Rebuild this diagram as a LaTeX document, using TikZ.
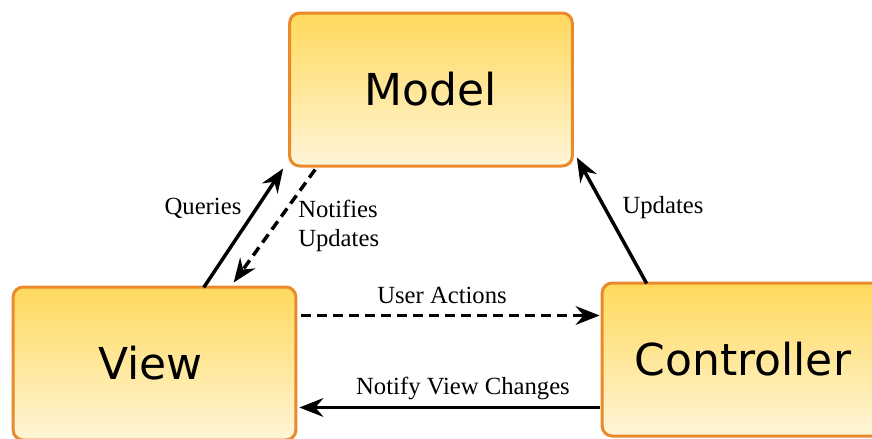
\documentclass[tikz,border=0pt]{standalone}
\usepackage{fontspec}
\setmainfont{Liberation Serif}
\newfontfamily\boxfont{DejaVu Sans}
\usetikzlibrary{arrows.meta,calc}
\definecolor{boxborder}{HTML}{E98A2C}
\definecolor{boxtop}{HTML}{FFD95C}
\definecolor{boxbot}{HTML}{FFF5D8}
\begin{document}
\begin{tikzpicture}[x=0.75pt,y=-0.75pt,
  mvcbox/.style={draw=boxborder,line width=2.25pt,rounded corners=7.5pt,
    top color=boxtop,bottom color=boxbot,minimum width=212pt,minimum height=114.75pt,
    inner sep=0pt,font=\boxfont\fontsize{33}{38}\selectfont},
  conn/.style={line width=2.6pt,-{Stealth[length=18pt,width=14pt,inset=6pt]}},
  dashconn/.style={conn,dash pattern=on 7.5pt off 4.5pt},
  lbl/.style={font=\fontsize{18.5}{21.75}\selectfont,inner sep=0pt}]
\useasboundingbox (0,0) rectangle (872,439);
\node[mvcbox] (Model) at (431,89.5) {Model};
\node[mvcbox] (View) at (154.5,363.5) {\hspace*{-6pt}View};
\node[mvcbox] (Controller) at (743.5,359.5) {\hspace*{-1pt}Controller};
% connectors
\draw[conn] ($(View.north west)+(192,2)$) -- ($(Model.south west)+(-5,1)$);
\draw[dashconn] ($(Model.south west)+(27,2)$) -- ($(View.north west)+(222,-3)$);
\draw[conn] ($(Controller.north west)+(46,2)$) -- ($(Model.south east)+(3,-10)$);
\draw[dashconn] ($(View.north east)+(4,30)$) -- ($(Controller.north west)+(-1,34)$);
\draw[conn] ($(Controller.north west)+(-1,126)$) -- ($(View.north east)+(2,122)$);
% labels
\node[lbl] (qlbl) at (203,208) {Queries};
\node[lbl,align=left,anchor=west] (nlbl) at (298,226) {Notifies\\Updates};
\node[lbl] (ulbl) at (663,208) {Updates};
\node[lbl] (albl) at (442,295) {User Actions};
\node[lbl] (vlbl) at (463,388) {Notify View Changes};
\end{tikzpicture}
\end{document}
